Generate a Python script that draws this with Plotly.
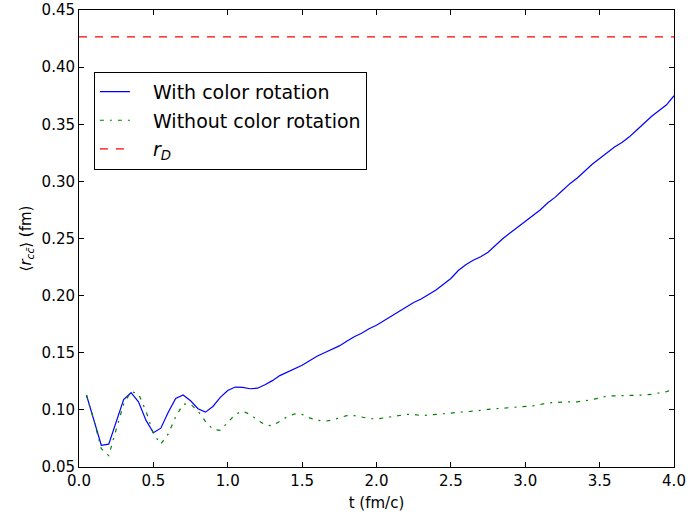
import plotly.graph_objects as go

t = [round(0.05 * i, 2) for i in range(1, 81)]

with_rot = [
    0.113, 0.091, 0.069, 0.070, 0.090, 0.109, 0.115, 0.107, 0.091, 0.080,
    0.084, 0.098, 0.110, 0.113, 0.108, 0.101, 0.098, 0.103, 0.111, 0.117,
    0.120, 0.1197, 0.1185, 0.119, 0.122, 0.1256, 0.130, 0.1332, 0.136, 0.139,
    0.143, 0.147, 0.150, 0.153, 0.156, 0.160, 0.164, 0.167, 0.171, 0.174,
    0.178, 0.182, 0.186, 0.190, 0.194, 0.197, 0.201, 0.205, 0.210, 0.215,
    0.222, 0.227, 0.231, 0.234, 0.238, 0.244, 0.250, 0.255, 0.260, 0.265,
    0.270, 0.275, 0.281, 0.286, 0.292, 0.298, 0.303, 0.309, 0.315, 0.320,
    0.325, 0.330, 0.334, 0.339, 0.345, 0.351, 0.357, 0.362, 0.367, 0.375,
]

without_rot = [
    0.113, 0.091, 0.066, 0.060, 0.083, 0.105, 0.116, 0.114, 0.099, 0.079,
    0.070, 0.079, 0.094, 0.105, 0.105, 0.099, 0.090, 0.083, 0.082, 0.089,
    0.096, 0.099, 0.096, 0.091, 0.087, 0.086, 0.090, 0.094, 0.0965, 0.096,
    0.093, 0.091, 0.090, 0.091, 0.093, 0.095, 0.095, 0.0935, 0.0925, 0.092,
    0.093, 0.0945, 0.0955, 0.096, 0.096, 0.095, 0.0955, 0.096, 0.0965, 0.0973,
    0.098, 0.098, 0.099, 0.0995, 0.1005, 0.101, 0.1015, 0.1017, 0.102, 0.1025,
    0.1035, 0.1047, 0.106, 0.1065, 0.107, 0.107, 0.107, 0.1077, 0.109, 0.1105,
    0.112, 0.1123, 0.1124, 0.1124, 0.1124, 0.113, 0.1136, 0.1145, 0.116, 0.118,
]

r_D = 0.4264
rD_x = [0.0, 4.0]

x_ticks = [0.0, 0.5, 1.0, 1.5, 2.0, 2.5, 3.0, 3.5, 4.0]
y_ticks = [0.05, 0.10, 0.15, 0.20, 0.25, 0.30, 0.35, 0.40, 0.45]

font = "DejaVu Sans"
pad = "&nbsp;&nbsp;&nbsp;"

fig = go.Figure()
fig.add_trace(go.Scatter(x=t, y=with_rot, mode="lines", name=pad + "With color rotation",
                         legendgroup="a",
                         line=dict(color="#0000ff", width=1.2)))
fig.add_trace(go.Scatter(x=t, y=without_rot, mode="lines", name=pad + "Without color rotation",
                         legendgroup="b",
                         line=dict(color="#008000", width=1.2, dash="4px,6px,2px,6px")))
fig.add_trace(go.Scatter(x=rD_x, y=[r_D, r_D], mode="lines",
                         name=pad + "<i>r</i><sub><i>D</i></sub>",
                         legendgroup="c",
                         line=dict(color="#ff0000", width=1.2, dash="8px,8px")))

axis_common = dict(
    showgrid=False, zeroline=False, showline=True, linecolor="black", linewidth=1,
    mirror="ticks", ticks="inside", ticklen=5, tickcolor="black", tickwidth=1,
    tickfont=dict(family=font, size=15, color="black"),
    ticklabeloverflow="allow", automargin=False,
)

fig.update_xaxes(range=[0, 4], tickvals=x_ticks, tickformat=".1f",
                 title=dict(text="t (fm/c)", font=dict(family=font, size=15, color="black"), standoff=9),
                 **axis_common)
fig.update_yaxes(range=[0.05, 0.45], tickvals=y_ticks, tickformat=".2f",
                 title=dict(text="⟨<i>r</i><sub><i>cc̄</i></sub>⟩ (fm)",
                            font=dict(family=font, size=15, color="black"), standoff=6),
                 **axis_common)

fig.update_layout(
    width=688, height=512,
    margin=dict(l=79, r=14, t=10, b=45),
    paper_bgcolor="white", plot_bgcolor="white",
    font=dict(family=font, size=15, color="black"),
    legend=dict(x=0.025, y=0.865, xanchor="left", yanchor="top",
                bgcolor="white", bordercolor="black", borderwidth=1,
                font=dict(family=font, size=19, color="black"),
                tracegroupgap=1),
)

fig.write_html("out.html",
               config={"displayModeBar": False},
               post_script="document.body.style.margin='0';document.body.style.overflow='hidden';")
